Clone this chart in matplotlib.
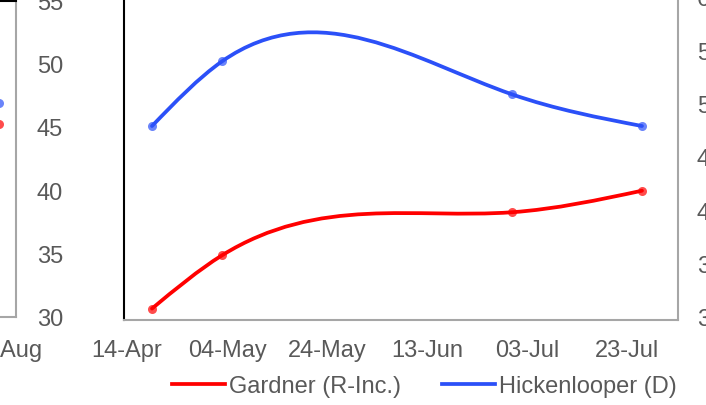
import numpy as np
import pandas as pd
import matplotlib
matplotlib.use("Agg")
import matplotlib.pyplot as plt
import matplotlib.dates as mdates
from matplotlib.path import Path
from matplotlib.patches import PathPatch
from matplotlib.transforms import ScaledTranslation

plt.rcParams['font.family'] = ['Liberation Sans', 'DejaVu Sans']

# poll dates and values (main chart)
poll_dates = pd.to_datetime(['2020-04-19', '2020-05-03', '2020-06-30', '2020-07-26'])
gardner = [30.9, 35.1, 38.5, 40.2]
hickenlooper = [45.3, 50.4, 47.8, 45.3]

# neighbouring charts that are cut by the crop
prev_date = pd.to_datetime(['2020-08-02'])
prev_gardner = [45.3]
prev_hickenlooper = [46.9]

tick_dates = pd.date_range('2020-04-14', periods=6, freq='20D')
y_ticks = [30, 35, 40, 45, 50, 55]
next_y_ticks = [30, 35, 40, 45, 50, 55, 60]

RED = '#FF0000'
BLUE = '#2B50F8'
TXT = '#595959'
GRID = '#A6A6A6'
FS = 17


def natural_spline_path(x, y):
    # natural cubic spline through the points, written as bezier segments
    x = np.asarray(x, float)
    y = np.asarray(y, float)
    n = len(x)
    h = np.diff(x)
    d = np.diff(y) / h
    A = np.zeros((n, n))
    b = np.zeros(n)
    A[0, 0] = A[-1, -1] = 1
    for i in range(1, n - 1):
        A[i, i - 1] = h[i - 1]
        A[i, i] = 2 * (h[i - 1] + h[i])
        A[i, i + 1] = h[i]
        b[i] = 6 * (d[i] - d[i - 1])
    M = np.linalg.solve(A, b)
    s = np.zeros(n)
    for i in range(n - 1):
        s[i] = d[i] - h[i] * (2 * M[i] + M[i + 1]) / 6
    s[-1] = d[-1] + h[-1] * (M[-2] + 2 * M[-1]) / 6
    verts = [(x[0], y[0])]
    codes = [Path.MOVETO]
    for i in range(n - 1):
        verts += [(x[i] + h[i] / 3, y[i] + s[i] * h[i] / 3),
                  (x[i + 1] - h[i] / 3, y[i + 1] - s[i + 1] * h[i] / 3),
                  (x[i + 1], y[i + 1])]
        codes += [Path.CURVE4] * 3
    return Path(verts, codes)


def draw_series(ax, dates, vals, color, label=None):
    xs = mdates.date2num(dates)
    if len(xs) > 1:
        ax.add_patch(PathPatch(natural_spline_path(xs, vals), fill=False,
                               edgecolor=color, lw=2.7, capstyle='round',
                               joinstyle='round', zorder=3))
    ax.plot(xs, vals, 'o', color=color, ms=6.5, alpha=0.7, mec='none', zorder=4)
    if label:
        ax.plot([], [], color=color, lw=2.7, label=label)


def nudge_ylabels(ax, dy_px):
    off = ScaledTranslation(0, dy_px / 100, fig.dpi_scale_trans)
    for lab in ax.get_yticklabels():
        lab.set_transform(lab.get_transform() + off)


W, H = 706, 406
fig = plt.figure(figsize=(W / 100, H / 100), dpi=100)

# main chart
ax = fig.add_axes([124 / W, 85 / H, (678 - 124) / W, (407 - 85) / H])
draw_series(ax, poll_dates, gardner, RED, 'Gardner (R-Inc.)')
draw_series(ax, poll_dates, hickenlooper, BLUE, 'Hickenlooper (D)')
start = mdates.date2num(pd.Timestamp('2020-04-14'))
ax.set_xlim(start - 0.6, start + 110.2)
ax.set_ylim(30, 55.4)
ax.set_xticks(mdates.date2num(tick_dates))
ax.set_xticklabels([d.strftime('%d-%b') for d in tick_dates])
ax.set_yticks(y_ticks)
ax.tick_params(axis='x', length=0, pad=14, labelsize=FS, labelcolor=TXT)
ax.tick_params(axis='y', length=0, pad=44, labelsize=FS, labelcolor=TXT)
nudge_ylabels(ax, 3)
ax.spines['left'].set_color('black')
ax.spines['left'].set_linewidth(1.5)
for sp in ['bottom', 'right']:
    ax.spines[sp].set_color(GRID)
    ax.spines[sp].set_linewidth(1.5)
ax.spines['top'].set_visible(False)

# previous chart (right edge only)
axl = fig.add_axes([16 / W - 0.7, 88 / H, 0.7, (404 - 88) / H])
draw_series(axl, prev_date, prev_gardner, RED)
draw_series(axl, prev_date, prev_hickenlooper, BLUE)
pend = mdates.date2num(prev_date[0]) + 3.3
axl.set_xlim(pend - 98.8, pend)
axl.set_ylim(30, 55)
axl.set_xticks([pend - 2.4])
axl.set_xticklabels(['03-Aug'])
axl.set_yticks([])
axl.tick_params(axis='x', length=0, pad=16, labelsize=FS, labelcolor=TXT)
axl.spines['top'].set_color('black')
axl.spines['top'].set_linewidth(1.5)
for sp in ['bottom', 'right']:
    axl.spines[sp].set_color(GRID)
    axl.spines[sp].set_linewidth(1.5)
axl.spines['left'].set_visible(False)

# next chart (only its y labels show)
axr = fig.add_axes([784 / W, 86 / H, 0.5, 320 / H])
axr.set_ylim(30, 60)
axr.set_yticks(next_y_ticks)
axr.set_xticks([])
axr.tick_params(axis='y', length=0, pad=44, labelsize=FS, labelcolor=TXT)
nudge_ylabels(axr, 2)
for sp in axr.spines.values():
    sp.set_visible(False)

fig.legend(loc='center', bbox_to_anchor=(424 / W, 19 / H), ncol=2,
           frameon=False, fontsize=FS, labelcolor=TXT, handlelength=2.24,
           handletextpad=0.17, columnspacing=1.74, borderpad=0)

fig.savefig('out.png', dpi=100)
